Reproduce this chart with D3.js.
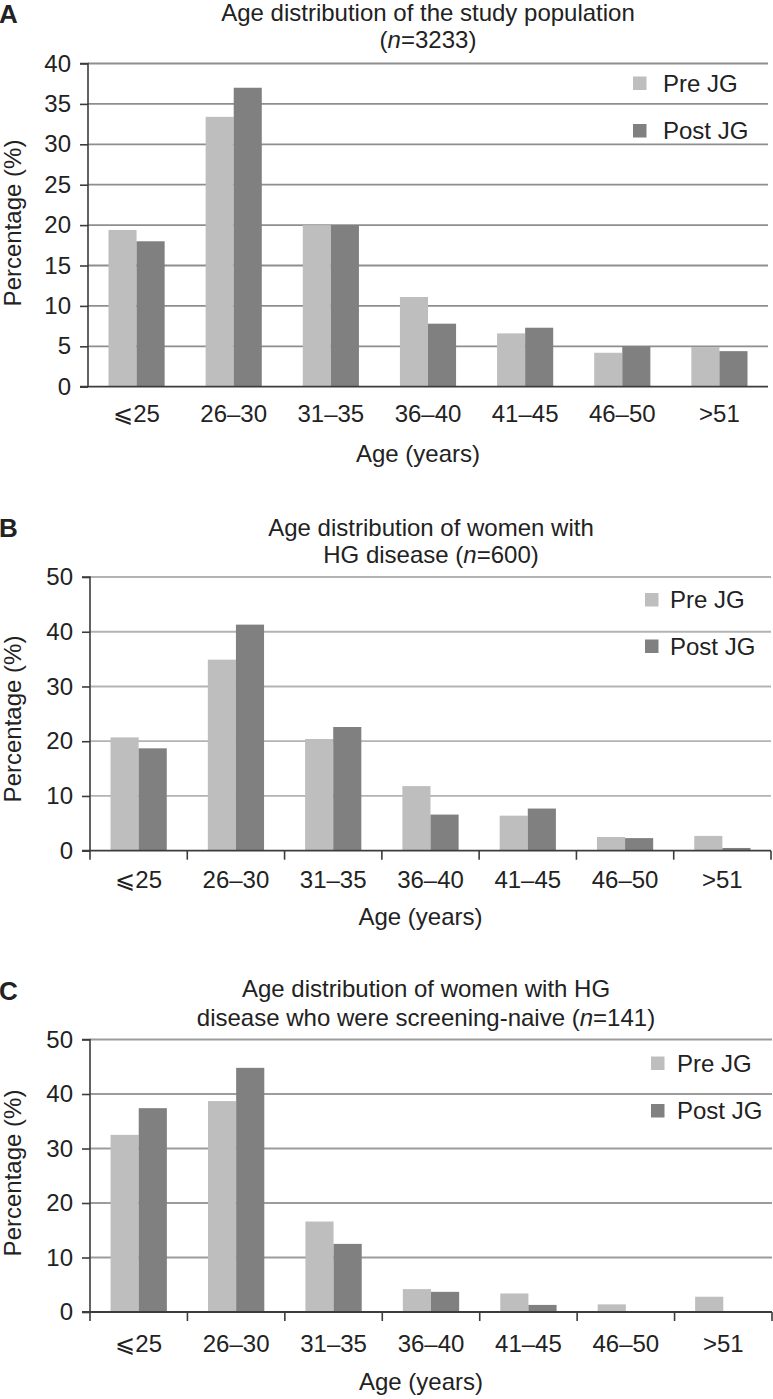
<!DOCTYPE html>
<html>
<head>
<meta charset="utf-8">
<script src="https://cdn.jsdelivr.net/npm/d3@7/dist/d3.min.js"></script>
<style>
  html, body { margin: 0; padding: 0; background: #fff; }
  svg text { font-family: "Liberation Sans", Arial, Helvetica, sans-serif; fill: #222; }
</style>
</head>
<body>
<svg id="chart" width="773" height="1399"></svg>
<script>
// ---------- data ----------
const categories = ["\u2A7D25", "26\u201330", "31\u201335", "36\u201340", "41\u201345", "46\u201350", ">51"];
const seriesNames = ["Pre JG", "Post JG"];

const preA  = [19.4, 33.4, 20.0, 11.1, 6.6, 4.2, 4.9];
const postA = [18.0, 37.0, 20.0, 7.8, 7.3, 5.0, 4.4];

const preB  = [20.7, 34.9, 20.4, 11.8, 6.4, 2.5, 2.7];
const postB = [18.7, 41.3, 22.6, 6.6, 7.7, 2.3, 0.5];

const preC  = [32.5, 38.7, 16.6, 4.2, 3.4, 1.4, 2.8];
const postC = [37.4, 44.8, 12.5, 3.7, 1.3, 0, 0];

const ticksA = [0, 5, 10, 15, 20, 25, 30, 35, 40];
const ticksB = [0, 10, 20, 30, 40, 50];
const ticksC = [0, 10, 20, 30, 40, 50];

const titlesA = ["Age distribution of the study population", ["(", "n", "=3233)"]];
const titlesB = ["Age distribution of women with", ["HG disease (", "n", "=600)"]];
const titlesC = ["Age distribution of women with HG", ["disease who were screening-naive (", "n", "=141)"]];

const xTitle = "Age (years)";
const yTitle = "Percentage (%)";

// ---------- layout ----------
const colors = { "Pre JG": "#bebebe", "Post JG": "#808080" };
const FS = 24;

const panels = [
  { letter: "A", pre: preA, post: postA, ticks: ticksA, titles: titlesA,
    x0: 88, x1: 768, yTop: 63.5, yBase: 386.7, grid: "#8e8e8e", xTicks: false,
    letterY: 23, t1: 21, t2: 48, tx: 428, labY: 35, axTitleY: 462, yTitleC: 223,
    leg: { x: 633, y1: 76.5, y2: 124, tx: 663 } },
  { letter: "B", pre: preB, post: postB, ticks: ticksB, titles: titlesB,
    x0: 90, x1: 771, yTop: 577, yBase: 850.7, grid: "#b3b3b3", xTicks: true,
    letterY: 537, t1: 536, t2: 563, tx: 431, labY: 37, axTitleY: 925, yTitleC: 719,
    leg: { x: 645, y1: 593, y2: 639.5, tx: 670 } },
  { letter: "C", pre: preC, post: postC, ticks: ticksC, titles: titlesC,
    x0: 90, x1: 772, yTop: 1039.5, yBase: 1312, grid: "#9c9c9c", xTicks: true,
    letterY: 1000, t1: 997, t2: 1026, tx: 426, labY: 39.5, axTitleY: 1390, yTitleC: 1173,
    leg: { x: 651, y1: 1056.5, y2: 1104, tx: 677 } }
];

const svg = d3.select("#chart");

panels.forEach(p => {
  const g = svg.append("g");
  const yMax = d3.max(p.ticks);
  const y = d3.scaleLinear().domain([0, yMax]).range([p.yBase, p.yTop]);
  const x = d3.scaleBand().domain(categories).range([p.x0, p.x1]).padding(0);
  const xs = d3.scaleBand().domain(seriesNames).range([0, x.bandwidth()]).paddingInner(0).paddingOuter(0.73);

  // gridlines
  g.append("g").selectAll("line").data(p.ticks.filter(t => t > 0)).join("line")
    .attr("x1", p.x0).attr("x2", p.x1)
    .attr("y1", d => y(d)).attr("y2", d => y(d))
    .attr("stroke", p.grid).attr("stroke-width", 1.8);

  // bars
  const rows = categories.map((c, i) => ({ cat: c, vals: [
    { s: "Pre JG", v: p.pre[i] }, { s: "Post JG", v: p.post[i] } ] }));
  const grp = g.append("g").selectAll("g").data(rows).join("g")
    .attr("transform", d => `translate(${x(d.cat)},0)`);
  grp.selectAll("rect").data(d => d.vals.filter(e => e.v > 0)).join("rect")
    .attr("x", d => xs(d.s)).attr("width", xs.bandwidth())
    .attr("y", d => y(d.v)).attr("height", d => y(0) - y(d.v))
    .attr("fill", d => colors[d.s]);

  // y axis
  const yAxis = d3.axisLeft(y).tickValues(p.ticks).tickSize(8).tickPadding(9).tickFormat(d3.format("d"));
  const ya = g.append("g").attr("transform", `translate(${p.x0},0)`).call(yAxis);
  ya.select(".domain").attr("stroke", "#3c3c3c").attr("stroke-width", 1.6)
    .attr("d", `M-8,${p.yTop}H0V${p.yBase}`);
  ya.selectAll(".tick line").attr("stroke", "#3c3c3c").attr("stroke-width", 1.6);
  ya.selectAll(".tick text").attr("font-size", FS).attr("fill", "#222")
    .attr("font-family", "Liberation Sans, Arial, sans-serif");

  // x baseline
  g.append("line").attr("x1", p.x0 - 8).attr("x2", p.x1)
    .attr("y1", y(0)).attr("y2", y(0))
    .attr("stroke", "#3c3c3c").attr("stroke-width", 1.8);

  // x boundary ticks
  if (p.xTicks) {
    const bounds = categories.map(c => x(c)).concat([x(categories[categories.length - 1]) + x.bandwidth()]);
    g.append("g").selectAll("line").data(bounds).join("line")
      .attr("x1", d => d).attr("x2", d => d)
      .attr("y1", y(0)).attr("y2", y(0) + 9)
      .attr("stroke", "#3c3c3c").attr("stroke-width", 1.6);
  }

  // x labels
  g.append("g").selectAll("text").data(categories).join("text")
    .attr("x", d => x(d) + x.bandwidth() / 2)
    .attr("y", y(0) + p.labY)
    .attr("text-anchor", "middle").attr("font-size", FS)
    .text(d => d);

  // axis titles
  g.append("text").attr("x", (p.x0 + p.x1) / 2 - 10).attr("y", p.axTitleY)
    .attr("text-anchor", "middle").attr("font-size", FS).text(xTitle);
  g.append("text").attr("transform", `translate(21,${p.yTitleC}) rotate(-90)`)
    .attr("text-anchor", "middle").attr("font-size", FS).text(yTitle);

  // panel letter
  g.append("text").attr("x", -1).attr("y", p.letterY)
    .attr("font-size", 26).attr("font-weight", "bold").attr("fill", "#111").text(p.letter);

  // title
  g.append("text").attr("x", p.tx).attr("y", p.t1).attr("text-anchor", "middle")
    .attr("font-size", FS).text(p.titles[0]);
  const t2 = g.append("text").attr("x", p.tx).attr("y", p.t2).attr("text-anchor", "middle")
    .attr("font-size", FS);
  t2.append("tspan").text(p.titles[1][0]);
  t2.append("tspan").attr("font-style", "italic").text(p.titles[1][1]);
  t2.append("tspan").text(p.titles[1][2]);

  // legend
  const legY = [p.leg.y1, p.leg.y2];
  seriesNames.forEach((s, i) => {
    g.append("rect").attr("x", p.leg.x).attr("y", legY[i]).attr("width", 13.5).attr("height", 13.5)
      .attr("fill", colors[s]);
    g.append("text").attr("x", p.leg.tx).attr("y", legY[i] + 15).attr("font-size", FS).text(s);
  });
});
</script>
</body>
</html>
